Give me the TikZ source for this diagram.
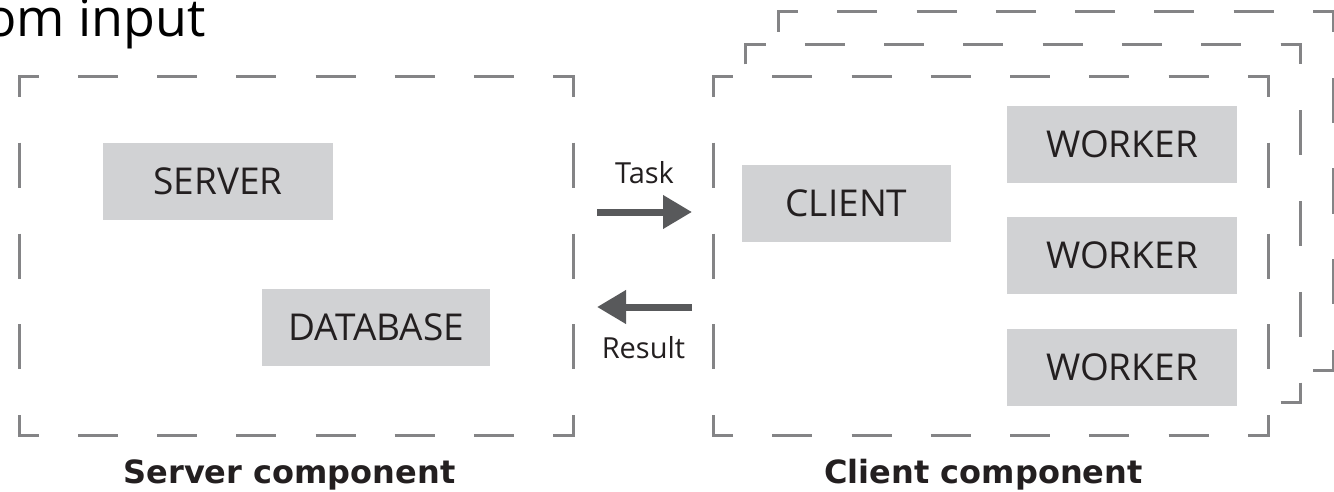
\documentclass[tikz,border=0pt]{standalone}
\usepackage{fontspec}
\setmainfont{Open Sans}
\newfontfamily\heavyfont{DejaVu Sans}
\usetikzlibrary{arrows.meta}
\definecolor{framegray}{HTML}{848486}
\definecolor{boxgray}{HTML}{D1D2D4}
\definecolor{arrowgray}{HTML}{58595B}
\definecolor{txtblack}{HTML}{231F20}
\tikzset{
  framec/.style={draw=framegray, line width=3pt, line cap=butt, line join=miter},
  gbox/.style={fill=boxgray, inner sep=0pt, minimum height=77pt, text=txtblack,
    font=\fontsize{37}{42}\selectfont},
  lbl/.style={inner sep=0pt, text=txtblack, font=\fontsize{29}{34}\selectfont},
  complbl/.style={inner sep=0pt, text=txtblack, font=\heavyfont\bfseries\fontsize{32}{38}\selectfont},
  bigarrow/.style={draw=arrowgray, line width=7pt, -{Triangle[length=29pt,width=32pt]}}
}
\newcommand\dframe[4]{%
  \fill[white] (#1,#2) rectangle (#3,#4);
  \pgfmathsetmacro\dfGh{((#3-#1)-40-240)/7}%
  \pgfmathsetmacro\dfGv{((#4-#2)-40-135)/4}%
  \draw[framec] ({#1},{#2+20}) -- ({#1},{#2}) -- ({#1+20},{#2});
  \draw[framec] ({#3-20},{#2}) -- ({#3},{#2}) -- ({#3},{#2+20});
  \draw[framec] ({#3},{#4-20}) -- ({#3},{#4}) -- ({#3-20},{#4});
  \draw[framec] ({#1+20},{#4}) -- ({#1},{#4}) -- ({#1},{#4-20});
  \draw[framec, dash pattern=on 40pt off \dfGh pt, dash phase=40pt] ({#1+20},{#2}) -- ({#3-20},{#2});
  \draw[framec, dash pattern=on 40pt off \dfGh pt, dash phase=40pt] ({#1+20},{#4}) -- ({#3-20},{#4});
  \draw[framec, dash pattern=on 45pt off \dfGv pt, dash phase=45pt] ({#1},{#2+20}) -- ({#1},{#4-20});
  \draw[framec, dash pattern=on 45pt off \dfGv pt, dash phase=45pt] ({#3},{#2+20}) -- ({#3},{#4-20});
}
\begin{document}
\begin{tikzpicture}[x=1pt,y=-1pt]
\useasboundingbox (0,0) rectangle (1334,492);
\fill[white] (0,0) rectangle (1334,492);

% title fragment
\node[anchor=base east, inner sep=0pt, text=black, font=\fontsize{52}{60}\selectfont] (title) at (206,37) {om input};

% server frame
\dframe{19}{77}{573}{435}
% client frames (back to front)
\dframe{778}{12}{1333}{370}
\dframe{745.5}{44.5}{1300.5}{402.5}
\dframe{713}{77}{1268}{435}

% boxes
\node[gbox, minimum width=230pt] (server) at (218,181.5) {SERVER};
\node[gbox, minimum width=228pt] (database) at (376,327) {DATABASE};
\node[gbox, minimum width=209pt] (client) at (846.5,203.5) {CLIENT};
\node[gbox, minimum width=230pt] (worker1) at (1122,144.5) {WORKER};
\node[gbox, minimum width=230pt] (worker2) at (1122,255.5) {WORKER};
\node[gbox, minimum width=230pt] (worker3) at (1122,367.5) {WORKER};

% arrows
\coordinate (taskS) at (597,212);
\coordinate (taskE) at (692,212);
\coordinate (resS) at (692,307);
\coordinate (resE) at (597,307);
\draw[bigarrow] (taskS) -- (taskE);
\draw[bigarrow] (resS) -- (resE);
\node[lbl, anchor=base] (task) at (644.5,183) {Task};
\node[lbl, anchor=base] (result) at (643.5,358) {Result};

% component labels
\node[complbl, anchor=base] (scomp) at (289.5,483) {Server component};
\node[complbl, anchor=base] (ccomp) at (983.5,483) {Client component};
\end{tikzpicture}
\end{document}
